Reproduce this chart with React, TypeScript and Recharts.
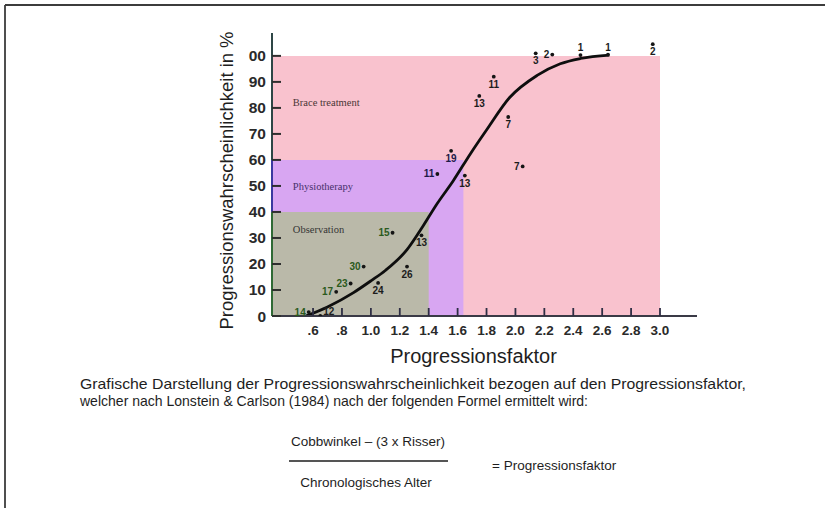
import React from 'react';
import {
  ComposedChart,
  Line,
  Scatter,
  XAxis,
  YAxis,
  ReferenceArea,
  ReferenceLine,
  ReferenceDot,
  Label,
} from 'recharts';

// x-axis (Progressionsfaktor)
const xTicks = [0.6, 0.8, 1.0, 1.2, 1.4, 1.6, 1.8, 2.0, 2.2, 2.4, 2.6, 2.8, 3.0];
const xTickLabels = ['.6', '.8', '1.0', '1.2', '1.4', '1.6', '1.8', '2.0', '2.2', '2.4', '2.6', '2.8', '3.0'];
// y-axis (Progressionswahrscheinlichkeit in %)
const yTicks = [0, 10, 20, 30, 40, 50, 60, 70, 80, 90, 100];
const yTickLabels = ['0', '10', '20', '30', '40', '50', '60', '70', '80', '90', '00'];

// fitted curve
const curveFactor = [0.55, 0.7, 0.88, 1.0, 1.1, 1.25, 1.36, 1.45, 1.57, 1.69, 1.8, 1.96, 2.15, 2.31, 2.45, 2.65];
const curveProbability = [0, 3.5, 9, 13.5, 17.5, 25.5, 34.5, 42.5, 52, 62.5, 71.5, 84, 92.5, 97, 99, 100.3];

// single cases (factor, probability, number of patients)
const caseFactor = [0.57, 0.65, 0.76, 0.86, 0.95, 1.15, 1.05, 1.25, 1.35, 1.46, 1.555, 1.65, 1.75, 1.85, 1.95, 2.05, 2.14, 2.255, 2.45, 2.64, 2.95];
const caseProbability = [1.5, 0, 9.3, 12.5, 19, 32, 12.7, 19, 31, 54.6, 63.5, 54, 84.6, 92, 76.5, 57.5, 101, 100.5, 100.3, 100.5, 104.5];
const caseCount = ['14', '12', '17', '23', '30', '15', '24', '26', '13', '11', '19', '13', '13', '11', '7', '7', '3', '2', '1', '1', '2'];

// treatment zones
const zoneNames = ['Brace treatment', 'Physiotherapy', 'Observation'];
const zoneFactorMax = [3.0, 1.64, 1.4];
const zoneProbabilityMax = [100, 60, 40];

const X_MIN = 0.316;
const X_MAX = 3.256;
const Y_MAX = 108.8;

const zoneFill = ['#f9c2ce', '#d8a6f2', '#bab9a9'];
const zoneTextColor = ['#4a3636', '#46306a', '#353535'];
const zoneLabelY = [82, 49.5, 33];
const zoneLabelX = 0.46;

const labelSide = ['left', 'right', 'left', 'left', 'left', 'left', 'below', 'below', 'below', 'left', 'below', 'below', 'below', 'below', 'below', 'left', 'below', 'left', 'above', 'above', 'below'];
const labelTone = ['g', 'k', 'g', 'g', 'g', 'g', 'k', 'k', 'k', 'n', 'n', 'k', 'k', 'k', 'k', 'k', 'k', 'k', 'k', 'k', 'k'];
const toneColor: Record<string, string> = { g: '#2b5a1c', k: '#1c1c1c', n: '#1c1a48' };

const curveData = curveFactor.map((x, i) => ({ x, p: curveProbability[i] }));
const caseData = caseFactor.map((x, i) => ({
  x,
  p: caseProbability[i],
  n: caseCount[i],
  side: labelSide[i],
  tone: labelTone[i],
}));

const sans = '"Liberation Sans", Arial, sans-serif';

const XTick = (props: any) => {
  const { x, y, index } = props;
  return (
    <g>
      <line x1={x} y1={y} x2={x} y2={y - 8} stroke="#2e2e44" strokeWidth={1.8} />
      <text x={x} y={y + 19} textAnchor="middle" fontFamily={sans} fontWeight="bold" fontSize={13.5} fill="#2a2a2a">
        {xTickLabels[index]}
      </text>
    </g>
  );
};

const YTick = (props: any) => {
  const { x, y, index } = props;
  return (
    <g>
      <line x1={x} y1={y} x2={x + 9} y2={y} stroke="#2e2e2e" strokeWidth={2} />
      <text x={x - 6} y={y + 5.5} textAnchor="end" fontFamily={sans} fontWeight="bold" fontSize={15.5} fill="#2a2a2a">
        {yTickLabels[index]}
      </text>
    </g>
  );
};

const CaseMark = (props: any) => {
  const { cx, cy, payload } = props;
  if (cx == null || cy == null) return null;
  const side = payload.side;
  let tx = cx;
  let ty = cy;
  let anchor: 'start' | 'middle' | 'end' = 'middle';
  if (side === 'left') {
    tx = cx - 3;
    ty = cy + 3.5;
    anchor = 'end';
  } else if (side === 'right') {
    tx = cx + 3;
    ty = cy - 1;
    anchor = 'start';
  } else if (side === 'below') {
    ty = cy + 11;
  } else {
    ty = cy - 4;
  }
  return (
    <g>
      <circle cx={cx} cy={cy} r={1.9} fill="#151515" />
      <text
        x={tx}
        y={ty}
        textAnchor={anchor}
        fontFamily='"Liberation Sans Narrow", "Liberation Sans", Arial, sans-serif'
        fontWeight="bold"
        fontSize={10}
        fill={toneColor[payload.tone]}
      >
        {payload.n}
      </text>
    </g>
  );
};

export default function App() {
  return (
    <div style={{ position: 'absolute', left: 0, top: 0, width: 825, height: 508, background: '#ffffff' }}>
      <ComposedChart width={825} height={508} margin={{ top: 33, right: 128, bottom: 0, left: 0 }}>
        <XAxis
          type="number"
          dataKey="x"
          domain={[X_MIN, X_MAX]}
          ticks={xTicks}
          interval={0}
          allowDataOverflow
          height={192}
          tickSize={0}
          tickMargin={0}
          tickLine={false}
          tick={<XTick />}
          axisLine={{ stroke: '#3a3a46', strokeWidth: 1.8 }}
        >
          <Label
            content={(p: any) => {
              const vb = p.viewBox;
              return (
                <text x={vb.x + vb.width / 2 - 11} y={vb.y + 47} textAnchor="middle" fontFamily={sans} fontSize={20} fill="#1e1e1e">
                  Progressionsfaktor
                </text>
              );
            }}
          />
        </XAxis>
        <YAxis
          type="number"
          dataKey="p"
          domain={[0, Y_MAX]}
          ticks={yTicks}
          interval={0}
          allowDataOverflow
          width={272}
          tickSize={0}
          tickMargin={0}
          tickLine={false}
          tick={<YTick />}
          axisLine={false}
        >
          <Label
            content={(p: any) => {
              const vb = p.viewBox;
              const lx = vb.x + vb.width - 39;
              const ly = vb.y + vb.height / 2 + 6;
              return (
                <text
                  x={lx}
                  y={ly}
                  transform={`rotate(-90 ${lx} ${ly})`}
                  textAnchor="middle"
                  fontFamily={sans}
                  fontSize={18}
                  fill="#1e1e1e"
                  textLength={298}
                  lengthAdjust="spacingAndGlyphs"
                >
                  Progressionswahrscheinlichkeit in %
                </text>
              );
            }}
          />
        </YAxis>

        {zoneNames.map((name, i) => (
          <ReferenceArea
            key={name}
            x1={X_MIN}
            x2={zoneFactorMax[i]}
            y1={0}
            y2={zoneProbabilityMax[i]}
            fill={zoneFill[i]}
            fillOpacity={1}
            stroke="none"
            ifOverflow="visible"
          />
        ))}
        {zoneNames.map((name, i) => (
          <ReferenceDot
            key={`lbl-${name}`}
            x={zoneLabelX}
            y={zoneLabelY[i]}
            r={0}
            fill="none"
            stroke="none"
            ifOverflow="visible"
            label={{
              content: (p: any) => (
                <text
                  x={p.viewBox.x}
                  y={p.viewBox.y + 3}
                  fontFamily='"Liberation Serif", "Times New Roman", serif'
                  fontSize={10.5}
                  fill={zoneTextColor[i]}
                >
                  {name}
                </text>
              ),
            }}
          />
        ))}

        <ReferenceLine segment={[{ x: X_MIN, y: 0 }, { x: X_MIN, y: 40 }]} stroke="#2f6a35" strokeWidth={2} ifOverflow="visible" />
        <ReferenceLine segment={[{ x: X_MIN, y: 40 }, { x: X_MIN, y: 60 }]} stroke="#3a38a0" strokeWidth={2} ifOverflow="visible" />
        <ReferenceLine segment={[{ x: X_MIN, y: 60 }, { x: X_MIN, y: Y_MAX }]} stroke="#2e4646" strokeWidth={2} ifOverflow="visible" />

        <Line
          data={curveData}
          dataKey="p"
          type="monotone"
          stroke="#0e0e0e"
          strokeWidth={2.8}
          dot={false}
          activeDot={false}
          isAnimationActive={false}
        />
        <Scatter data={caseData} dataKey="p" shape={<CaseMark />} isAnimationActive={false} />
      </ComposedChart>

      <svg width={825} height={508} style={{ position: 'absolute', left: 0, top: 0, pointerEvents: 'none' }}>
        <line x1={5} y1={5} x2={825} y2={5} stroke="#3c3c3c" strokeWidth={1.8} />
        <line x1={5} y1={5} x2={5} y2={508} stroke="#3c3c3c" strokeWidth={1.8} />
        <text x={80} y={389} fontFamily={sans} fontSize={14.5} fill="#1e1e1e" textLength={666} lengthAdjust="spacingAndGlyphs">
          Grafische Darstellung der Progressionswahrscheinlichkeit bezogen auf den Progressionsfaktor,
        </text>
        <text x={80} y={406} fontFamily={sans} fontSize={14.5} fill="#1e1e1e" textLength={508} lengthAdjust="spacingAndGlyphs">
          welcher nach Lonstein &amp; Carlson (1984) nach der folgenden Formel ermittelt wird:
        </text>
        <text x={368} y={446} textAnchor="middle" fontFamily={sans} fontSize={13.5} fill="#1e1e1e">
          Cobbwinkel – (3 x Risser)
        </text>
        <line x1={289} y1={461} x2={448} y2={461} stroke="#555555" strokeWidth={2} />
        <text x={366} y={487} textAnchor="middle" fontFamily={sans} fontSize={13.5} fill="#1e1e1e">
          Chronologisches Alter
        </text>
        <text x={492} y={470} fontFamily={sans} fontSize={13.5} fill="#1e1e1e">
          = Progressionsfaktor
        </text>
      </svg>
    </div>
  );
}
